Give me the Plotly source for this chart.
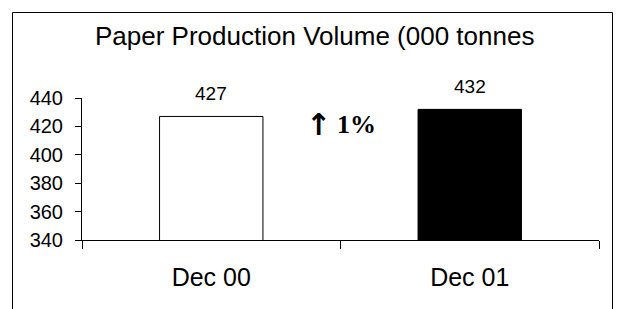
import plotly.graph_objects as go

# ---- data ----
categories = ["Dec 00", "Dec 01"]
values = [427, 432]
bar_colors = ["#ffffff", "#000000"]
title_text = "Paper Production Volume (000 tonnes"
arrow_text = "\u2191"
change_text = "1%"
y_ticks = [340, 360, 380, 400, 420, 440]

# ---- layout geometry (pixels) ----
W, H = 618, 309
L, R, T, B = 82, 19, 98, 69
PW = W - L - R
PH = H - T - B


def px_x(px):
    return (px - L) / PW


def px_y(py):
    return (H - B - py) / PH


SANS = "Liberation Sans, Arial, sans-serif"
SERIF = "Liberation Serif, Times New Roman, serif"

fig = go.Figure()
fig.add_trace(
    go.Bar(
        x=categories,
        y=values,
        width=0.4,
        marker=dict(color=bar_colors, line=dict(color="#000000", width=1)),
        hoverinfo="skip",
    )
)

# value labels above bars
for c, v in zip(categories, values):
    fig.add_annotation(
        x=c, y=v, xref="x", yref="y", text=str(v), showarrow=False,
        yshift=23, font=dict(family=SANS, size=19, color="#000000"),
    )

# title
fig.add_annotation(
    x=px_x(314), y=px_y(36), xref="paper", yref="paper", text=title_text,
    showarrow=False, xanchor="center", yanchor="middle",
    font=dict(family=SANS, size=26, color="#000000"),
)

# change annotation: arrow + percentage
fig.add_annotation(
    x=px_x(318), y=px_y(124), xref="paper", yref="paper",
    text="<b>" + arrow_text + "</b>", showarrow=False,
    xanchor="center", yanchor="middle",
    font=dict(family="DejaVu Sans, sans-serif", size=30, color="#000000"),
)
fig.add_annotation(
    x=px_x(335), y=px_y(124), xref="paper", yref="paper",
    text="<b>" + change_text + "</b>", showarrow=False,
    xanchor="left", yanchor="middle",
    font=dict(family=SERIF, size=26, color="#000000"),
)

# outer border (bottom edge off-canvas)
fig.add_shape(
    type="rect", xref="paper", yref="paper",
    x0=px_x(12.5), x1=px_x(612.5), y0=px_y(330), y1=px_y(12.5),
    line=dict(color="#000000", width=1), fillcolor="rgba(0,0,0,0)", layer="above",
)

fig.update_layout(
    width=W, height=H,
    margin=dict(l=L, r=R, t=T, b=B, pad=0),
    paper_bgcolor="#ffffff", plot_bgcolor="#ffffff",
    showlegend=False,
    bargap=0.6,
)
fig.update_xaxes(
    type="category", range=[-0.5, 1.5], tickson="boundaries",
    ticks="outside", ticklen=8, tickcolor="#000000", tickwidth=1,
    showline=True, linecolor="#000000", linewidth=1,
    showgrid=False, zeroline=False,
    tickfont=dict(family=SANS, size=25, color="#000000"),
    ticklabelstandoff=15,
)
fig.update_yaxes(
    range=[340, 440], tickvals=y_ticks, ticktext=[str(t) for t in y_ticks],
    ticks="outside", ticklen=6, tickcolor="#000000", tickwidth=1,
    showline=True, linecolor="#000000", linewidth=1,
    showgrid=False, zeroline=False,
    tickfont=dict(family=SANS, size=20, color="#000000"),
    ticklabelstandoff=8,
)

fig.write_html(
    "out.html",
    config={"displayModeBar": False, "staticPlot": True},
    post_script="document.body.style.margin='0';document.body.style.overflow='hidden';",
)
